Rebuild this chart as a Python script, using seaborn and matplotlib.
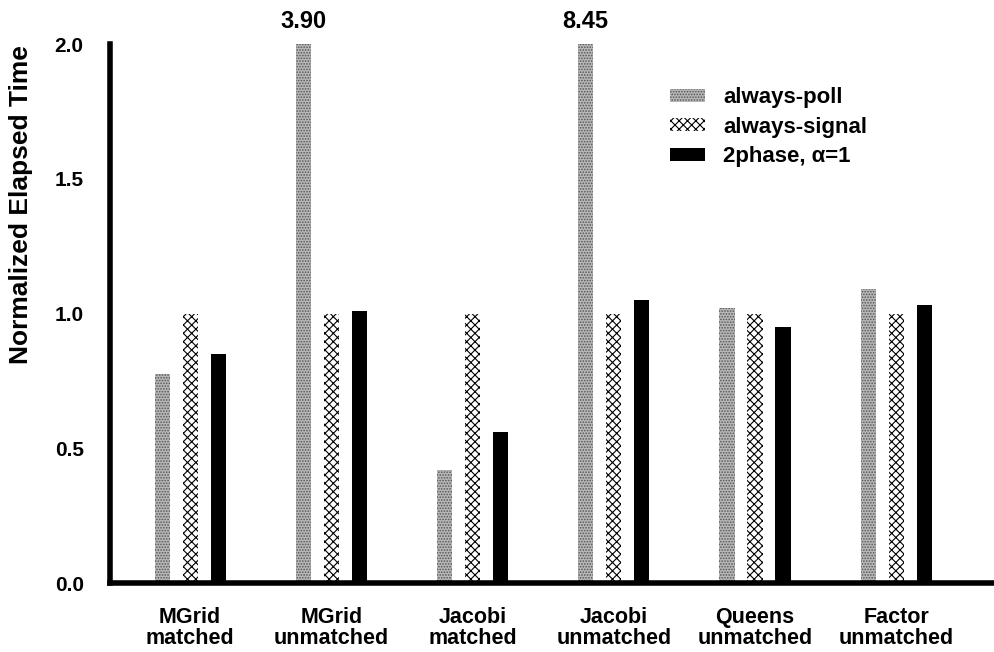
import matplotlib
matplotlib.use("Agg")
import matplotlib.pyplot as plt
from matplotlib.patches import Patch
import seaborn as sns
import pandas as pd

categories = ["MGrid\nmatched", "MGrid\nunmatched", "Jacobi\nmatched",
              "Jacobi\nunmatched", "Queens\nunmatched", "Factor\nunmatched"]
series = ["always-poll", "always-signal", "2phase, \u03b1=1"]
always_poll = [0.775, 3.90, 0.42, 8.45, 1.02, 1.09]
always_signal = [1.0, 1.0, 1.0, 1.0, 1.0, 1.0]
two_phase = [0.85, 1.01, 0.56, 1.05, 0.95, 1.03]
yticks = [0.0, 0.5, 1.0, 1.5, 2.0]

rows = []
for name, vals in zip(series, [always_poll, always_signal, two_phase]):
    for c, v in zip(categories, vals):
        rows.append({"cat": c, "series": name, "value": v})
df = pd.DataFrame(rows)

sns.set_style("white")
plt.rcParams["font.family"] = ["Liberation Sans", "DejaVu Sans"]
plt.rcParams["font.weight"] = "bold"
plt.rcParams["hatch.linewidth"] = 0.8
for k in ["text.color", "axes.labelcolor", "xtick.color", "ytick.color"]:
    plt.rcParams[k] = "black"

fig = plt.figure(figsize=(9.95, 6.52), dpi=100)
ax = fig.add_axes([0.1106, 0.1058, 0.8894, 0.8267])

sns.barplot(data=df, x="cat", y="value", hue="series", order=categories,
            hue_order=series, width=0.595, gap=0.46, ax=ax, errorbar=None,
            legend=False)

styles = [
    dict(facecolor="#b8b8b8", edgecolor="#555555", hatch="......", linewidth=0),
    dict(facecolor="white", edgecolor="black", hatch="xxxx", linewidth=0),
    dict(facecolor="black", edgecolor="black", hatch=None, linewidth=0),
]
for cont, st in zip(ax.containers, styles):
    for p in cont:
        p.set_facecolor(st["facecolor"])
        p.set_edgecolor(st["edgecolor"])
        p.set_hatch(st["hatch"])
        p.set_linewidth(st["linewidth"])

ax.set_ylim(0, 2.0)
ax.set_xlim(-0.567, 5.70)
ax.set_yticks(yticks)
ax.set_yticklabels([f"{t:.1f}" for t in yticks], fontsize=15, fontweight="bold")
ax.tick_params(axis="y", direction="in", length=5, width=0.8, pad=19,
               colors="black")
ax.tick_params(axis="x", length=0, pad=17, colors="black")
for lbl in ax.get_xticklabels():
    lbl.set_fontsize(15.5)
    lbl.set_fontweight("bold")
    lbl.set_linespacing(1.0)
ax.set_xlabel("")
ax.set_ylabel("Normalized Elapsed Time", fontsize=19, fontweight="bold",
              color="black")
ax.yaxis.set_label_coords(-0.087, 0.703)

for s in ["top", "right"]:
    ax.spines[s].set_visible(False)
for s in ["left", "bottom"]:
    ax.spines[s].set_linewidth(4)
    ax.spines[s].set_color("black")

# labels for clipped bars
poll_cont = ax.containers[0]
for i, v in enumerate(always_poll):
    if v > 2.0:
        p = poll_cont[i]
        ax.annotate(f"{v:.2f}", xy=(p.get_x() + p.get_width() / 2, 2.0),
                    xytext=(0, 8), textcoords="offset points", ha="center",
                    va="bottom", fontsize=17, fontweight="bold", color="black",
                    annotation_clip=False)

handles = [Patch(facecolor=st["facecolor"], edgecolor=st["edgecolor"],
                 hatch=st["hatch"], linewidth=0) for st in styles]
leg = ax.legend(handles, series, loc="upper left", bbox_to_anchor=(0.610, 0.957),
                frameon=False, fontsize=16, handlelength=1.6, handleheight=0.55,
                labelspacing=0.38, handletextpad=0.8)
for t in leg.get_texts():
    t.set_fontweight("bold")
    t.set_color("black")

fig.savefig("out.png", dpi=100)
